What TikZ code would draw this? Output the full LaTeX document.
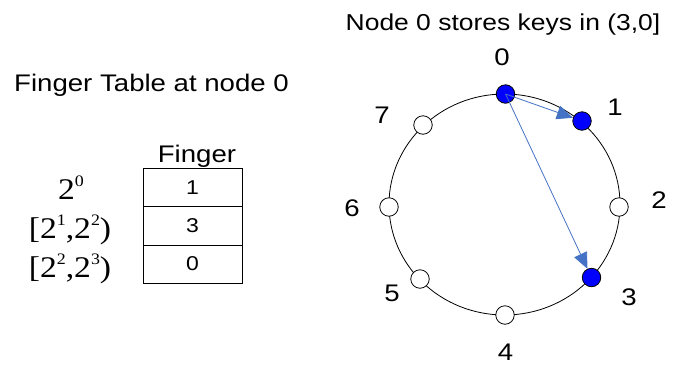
\documentclass[tikz,border=0pt]{standalone}
\usepackage{fontspec}
\setmainfont{Liberation Sans}[FakeStretch=1.15]
\newfontfamily\serifw{Liberation Serif}[FakeStretch=1.12]
\usetikzlibrary{arrows.meta}
\definecolor{ownerblue}{RGB}{0,0,255}
\definecolor{hopblue}{RGB}{68,114,196}
% power of two with a raised exponent
\newcommand\pw[2]{#1\raisebox{0.42em}{\fontsize{16}{16}\selectfont #2}}
\begin{document}
\begin{tikzpicture}[x=1pt,y=-1pt,
  peer/.style={circle,draw,line width=0.8pt,minimum size=18.5pt,inner sep=0pt,fill=white},
  owner/.style={peer,fill=ownerblue},
  lbl/.style={font=\fontsize{24}{24}\selectfont,inner sep=0pt},
  cell/.style={draw,line width=0.8pt,minimum width=99pt,minimum height=38.3pt,
    font=\fontsize{20}{20}\selectfont,inner sep=0pt},
  powlbl/.style={font=\serifw\fontsize{30}{30}\selectfont,inner sep=0pt,anchor=base},
  hop/.style={draw=hopblue,line width=0.8pt,
    -{Triangle[length=16pt,width=14pt,fill=hopblue]}}]
\useasboundingbox (0,0) rectangle (674,365);

% headings
\node[lbl,anchor=base,font=\fontsize{23}{23}\selectfont] (title) at (503,30) {Node 0 stores keys in (3,0]};
\node[lbl,anchor=base west] (fthead) at (14,91) {Finger Table at node 0};

% finger table
\node[lbl,anchor=base] (colhead) at (197,162) {Finger};
\node[cell] (r1) at (192.5,187.5) {1};
\node[cell] (r2) at (192.5,225.8) {3};
\node[cell] (r3) at (192.5,264.1) {0};
\node[powlbl] (p1) at (71,199) {\pw{2}{0}};
\node[powlbl] (p2) at (70,238) {[\pw{2}{1},\pw{2}{2})};
\node[powlbl] (p3) at (70,277) {[\pw{2}{2},\pw{2}{3})};

% identifier ring
\coordinate (c) at (504.5,204.5);
\draw[line width=0.8pt] (c) ellipse [x radius=115.5,y radius=110.5];
\node[owner] (n0) at (505.5,94) {};
\node[owner] (n1) at (582,121) {};
\node[peer]  (n2) at (619,207) {};
\node[owner] (n3) at (591.5,277.5) {};
\node[peer]  (n4) at (505,315) {};
\node[peer]  (n5) at (420,279) {};
\node[peer]  (n6) at (389,207) {};
\node[peer]  (n7) at (423,125) {};

% node identifiers
\node[lbl] (l0) at (502,57) {0};
\node[lbl] (l1) at (615,107) {1};
\node[lbl] (l2) at (659,200) {2};
\node[lbl] (l3) at (629,297) {3};
\node[lbl] (l4) at (505.5,352) {4};
\node[lbl] (l5) at (392,293) {5};
\node[lbl] (l6) at (352,208) {6};
\node[lbl] (l7) at (382,115) {7};

% finger pointers of node 0
\draw[hop] (n0.center) -- (n1);
\draw[hop] (n0.center) -- (n3);
\end{tikzpicture}
\end{document}
